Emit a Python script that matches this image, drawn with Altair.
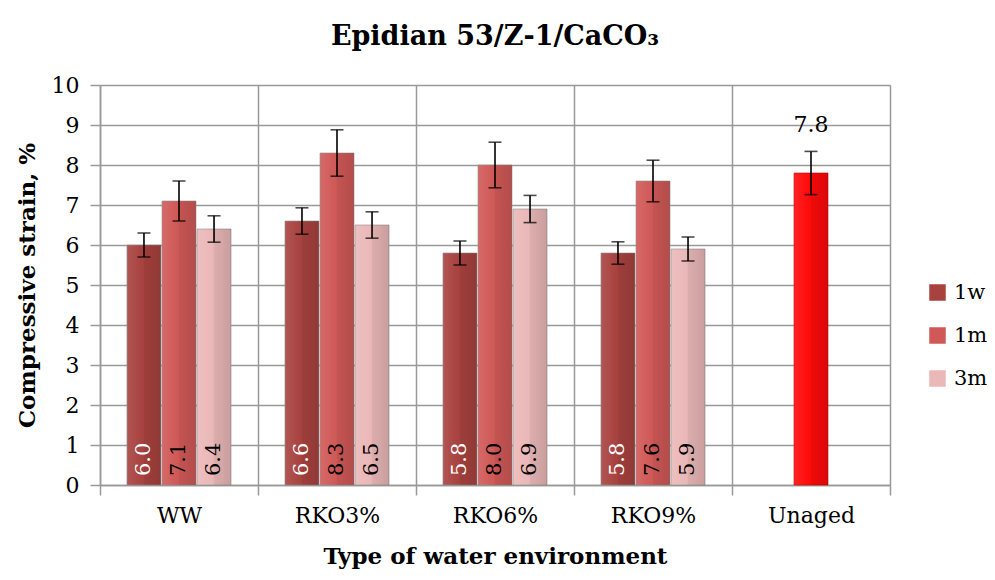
import altair as alt
import pandas as pd

categories = ["WW", "RKO3%", "RKO6%", "RKO9%"]
all_categories = ["WW", "RKO3%", "RKO6%", "RKO9%", "Unaged"]
series = ["1w", "1m", "3m"]
y_ticks = [0, 1, 2, 3, 4, 5, 6, 7, 8, 9, 10]
vals_1w = [6.0, 6.6, 5.8, 5.8]
vals_1m = [7.1, 8.3, 8.0, 7.6]
vals_3m = [6.4, 6.5, 6.9, 5.9]
err_1w = [0.30, 0.33, 0.30, 0.28]
err_1m = [0.50, 0.58, 0.57, 0.52]
err_3m = [0.33, 0.33, 0.34, 0.30]
unaged_value = [7.8]
unaged_err = [0.54]
series_colors = ["#a8423f", "#d05957", "#ebb8b8"]

FONT = "DejaVu Serif"

rows = []
for s, vals, errs in [("1w", vals_1w, err_1w), ("1m", vals_1m, err_1m), ("3m", vals_3m, err_3m)]:
    for c, v, e in zip(categories, vals, errs):
        rows.append({"cat": c, "series": s, "value": v, "lo": v - e, "hi": v + e, "zero": 0})
df = pd.DataFrame(rows)
dfu = pd.DataFrame({"cat": ["Unaged"], "value": unaged_value,
                    "lo": [unaged_value[0] - unaged_err[0]],
                    "hi": [unaged_value[0] + unaged_err[0]]})

xscale = alt.Scale(domain=all_categories, paddingInner=0, paddingOuter=0)
yscale = alt.Scale(domain=[0, 10], nice=False)
offscale = alt.Scale(domain=series, paddingInner=0.03, paddingOuter=0.77)

x_axis = alt.Axis(title="Type of water environment", tickBand="extent",
                  grid=True, gridColor="#999999", gridWidth=1.5,
                  tickColor="#999999", tickWidth=1.5, tickSize=10,
                  domainColor="#999999", domainWidth=1.5,
                  labelAngle=0, labelFont=FONT, labelFontSize=22,
                  labelColor="black", labelPadding=10,
                  titleFont=FONT, titleFontSize=23, titleFontWeight="bold",
                  titleColor="black", titlePadding=19)
y_axis = alt.Axis(title="Compressive strain, %", values=y_ticks, tickCount=len(y_ticks),
                  labelOverlap=False,
                  grid=True, gridColor="#999999", gridWidth=1.5,
                  tickColor="#999999", tickWidth=1.5, tickSize=10,
                  domainColor="#999999", domainWidth=1.5,
                  labelFont=FONT, labelFontSize=22, labelColor="black",
                  labelPadding=11,
                  titleFont=FONT, titleFontSize=23, titleFontWeight="bold",
                  titleColor="black", titlePadding=12)


def X():
    return alt.X("cat:N", scale=xscale, sort=all_categories, axis=x_axis)


def Y(field):
    return alt.Y(field + ":Q", scale=yscale, axis=y_axis)


base = alt.Chart(df)
xo = alt.XOffset("series:N", scale=offscale, sort=series)

bars = base.mark_bar(stroke="#8a8a8a", strokeWidth=0.6).encode(
    x=X(), xOffset=xo, y=Y("value"),
    color=alt.Color("series:N", sort=series,
                    scale=alt.Scale(domain=series, range=series_colors),
                    legend=alt.Legend(title=None, orient="none", legendX=827, legendY=197,
                                      symbolType="square", symbolSize=272,
                                      symbolStrokeWidth=0, labelFont=FONT,
                                      labelFontSize=21, labelColor="black",
                                      rowPadding=21, labelOffset=6, padding=0)))

shade = {"gradient": "linear", "x1": 0, "x2": 1, "y1": 0, "y2": 0,
         "stops": [{"offset": 0, "color": "rgba(255,255,255,0.10)"},
                   {"offset": 0.45, "color": "rgba(255,255,255,0.0)"},
                   {"offset": 0.5, "color": "rgba(0,0,0,0.06)"},
                   {"offset": 1, "color": "rgba(0,0,0,0.14)"}]}
bars_shade = base.mark_bar(fill=shade).encode(x=X(), xOffset=xo, y=Y("value"))

err_rule = base.mark_rule(color="black", strokeWidth=1.6).encode(
    x=X(), xOffset=xo, y=Y("lo"), y2="hi:Q")
cap_lo = base.mark_tick(color="black", thickness=1.6, size=13).encode(
    x=X(), xOffset=xo, y=Y("lo"))
cap_hi = base.mark_tick(color="black", thickness=1.6, size=13).encode(
    x=X(), xOffset=xo, y=Y("hi"))

labels = base.mark_text(angle=270, align="left", baseline="middle", dx=9, dy=0,
                        font=FONT, fontSize=21).encode(
    x=X(), xOffset=xo, y=Y("zero"),
    text=alt.Text("value:Q", format=".1f"),
    color=alt.condition(alt.datum.series == "1w", alt.value("white"), alt.value("black")))

ubase = alt.Chart(dfu)
ubar = ubase.mark_bar(color="#ff0a0a", stroke="#c00000", strokeWidth=0.6, width=34).encode(
    x=X(), y=Y("value"))
ushade = ubase.mark_bar(fill=shade, width=34).encode(x=X(), y=Y("value"))
urule = ubase.mark_rule(color="black", strokeWidth=1.6).encode(
    x=X(), y=Y("lo"), y2="hi:Q")
ucap_lo = ubase.mark_tick(color="black", thickness=1.6, size=13).encode(x=X(), y=Y("lo"))
ucap_hi = ubase.mark_tick(color="black", thickness=1.6, size=13).encode(x=X(), y=Y("hi"))
ulabel = ubase.mark_text(baseline="bottom", dy=-14, font=FONT, fontSize=22, color="black").encode(
    x=X(), y=Y("hi"), text=alt.Text("value:Q", format=".1f"))

chart = alt.layer(bars, bars_shade, err_rule, cap_lo, cap_hi, labels,
                  ubar, ushade, urule, ucap_lo, ucap_hi, ulabel).properties(
    width=790, height=400,
    title=alt.Title("Epidian 53/Z-1/CaCO\u2083", font=FONT, fontSize=27, fontWeight="bold",
                    color="black", anchor="middle", offset=23),
    autosize=alt.AutoSizeParams(type="none"),
    padding={"left": 92, "top": 77, "right": 97, "bottom": 85},
).configure_view(stroke="#999999", strokeWidth=1.5).configure(background="white")

chart.save("out.html", embed_options={"renderer": "svg", "actions": False})
